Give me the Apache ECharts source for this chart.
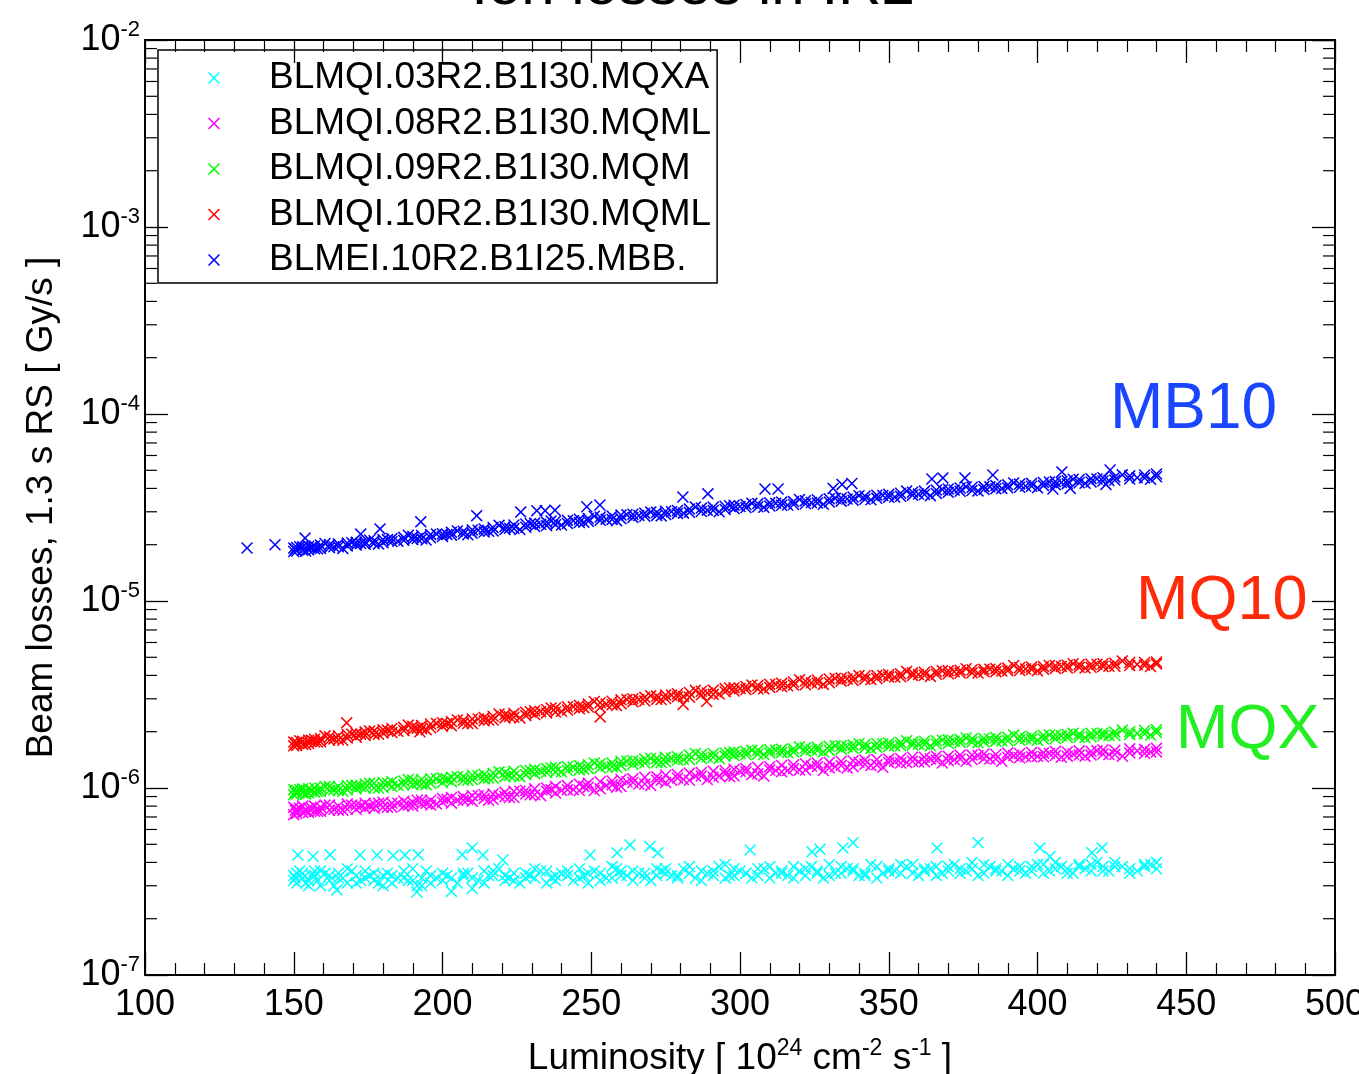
<!DOCTYPE html>
<html>
<head>
<meta charset="utf-8">
<title>Ion losses in IR2</title>
<script src="https://cdn.jsdelivr.net/npm/echarts@6/dist/echarts.min.js"></script>
<style>
  html, body { margin: 0; padding: 0; background: #fff; }
  #chart { width: 1359px; height: 1074px; }
</style>
</head>
<body>
<div id="chart"></div>
<script>
// luminosity samples [1e24 cm^-2 s^-1]
const lumi = [150,151,153,155,157,159,162,165,168,171,174,177,180,183,187,190,193,196,200,203,
  207,210,214,217,221,224,228,231,235,238,242,246,249,253,257,260,264,268,272,275,
  279,283,287,291,295,298,302,306,310,314,318,322,326,330,334,338,342,346,350,354,
  358,362,366,370,374,378,382,386,390,394,398,402,406,410,414,418,422,426,431,436,440];
const lumi2 = [150.5,152,154,156,158,160.5,163.5,166.5,169.5,172.5,175.5,178.5,181.5,185,188.5,191.5,194.5,198,201.5,205,
  208.5,212,215.5,219,222.5,226,229.5,233,236.5,240,244,247.5,251,255,258.5,262,266,270,273.5,277,
  281,285,289,293,296.5,300,304,308,312,316,320,324,328,332,336,340,344,348,352,356,
  360,364,368,372,376,380,384,388,392,396,400,404,408,412,416,420,424,428.5,433.5,438];

// BLMQI.03R2.B1I30.MQXA, x 1e-7 Gy/s
const mqxaA = [3.4,3.1,3.5,3.2,3.6,3.0,3.4,3.3,3.7,3.1,3.3,3.5,3.0,3.4,3.6,3.2,3.3,3.1,3.5,3.3,
  3.4,2.9,3.6,3.4,3.2,3.5,3.3,3.7,3.1,3.4,3.6,3.3,3.5,3.2,3.8,3.4,3.6,3.3,3.7,3.5,
  3.4,3.8,3.2,3.6,3.9,3.4,3.5,3.7,3.3,3.6,3.8,3.4,3.6,3.9,3.5,3.7,3.4,3.8,3.6,3.5,
  3.9,3.6,3.4,3.8,3.7,4.0,3.5,3.7,3.9,3.6,3.8,3.5,4.0,3.7,3.9,3.6,3.8,4.0,3.7,3.9,3.7];
const mqxaB = [3.2,3.5,3.3,3.0,3.4,3.6,3.2,3.5,3.1,3.4,3.6,3.2,3.4,3.1,3.3,3.7,3.0,3.4,3.2,2.8,
  3.5,3.3,3.1,3.6,3.4,3.2,3.5,3.3,3.6,3.2,3.4,3.7,3.1,3.5,3.3,3.6,3.2,3.5,3.4,3.7,
  3.3,3.5,3.6,3.4,3.3,3.7,3.5,3.4,3.8,3.5,3.3,3.7,3.5,3.4,3.8,3.6,3.5,3.3,3.7,3.9,
  3.5,3.7,3.8,3.6,3.5,3.7,3.9,3.6,3.4,3.8,3.6,3.9,3.7,3.5,3.8,3.9,3.6,3.8,3.5,3.8,4.0];
const mqxaC = [3.3,3.6,3.1,3.4,3.2,3.5,3.0,3.3,3.6,3.2,3.4,3.1,3.5,3.3,3.2,3.0,3.6,3.3,3.4,3.1,
  3.5,3.2,3.4,3.7,3.3,3.1,3.4,3.6,3.3,3.5,3.2,3.4,3.6,3.3,3.7,3.4,3.5,3.2,3.6,3.4,
  3.7,3.3,3.5,3.8,3.4,3.6,3.3,3.7,3.5,3.4,3.6,3.8,3.3,3.5,3.7,3.4,3.9,3.5,3.6,3.8,
  3.4,3.7,3.5,3.9,3.6,3.4,3.8,3.6,3.7,3.5,3.9,3.6,3.8,3.5,3.7,4.0,3.6,3.8,3.6,3.9];
const mqxaOut = [[151.4,4.38],[156.5,4.3],[162.2,4.4],[172.3,4.38],[178,4.38],[183.4,4.35],[187.4,4.38],
  [191.8,4.4],[206.6,4.4],[210,4.78],[213.6,4.38],[220.3,4.12],[249.6,4.38],[258.7,4.5],[263,4.96],
  [269.7,4.86],[272.4,4.5],[303.4,4.66],[324.2,4.56],[326.9,4.7],[334.6,4.78],[338,5.1],[366.2,4.78],
  [380,5.1],[400.8,4.78],[404.2,4.3],[418.3,4.5],[421.7,4.78],[164.5,2.85],[191.4,2.78]];

// BLMQI.08R2.B1I30.MQML, x 1e-6 Gy/s
const mqml08A = [0.79,0.73,0.80,0.74,0.80,0.75,0.81,0.76,0.82,0.77,0.83,0.78,0.84,0.79,0.85,0.80,0.86,0.81,0.88,0.83,
  0.90,0.85,0.92,0.87,0.95,0.89,0.97,0.92,1.00,0.94,1.03,0.97,1.06,0.99,1.09,1.02,1.12,1.05,1.15,1.07,
  1.18,1.10,1.21,1.14,1.24,1.16,1.27,1.19,1.30,1.22,1.33,1.25,1.36,1.28,1.39,1.30,1.41,1.33,1.43,1.36,
  1.46,1.38,1.48,1.40,1.50,1.42,1.52,1.43,1.54,1.45,1.55,1.47,1.57,1.48,1.58,1.50,1.60,1.51,1.62,1.53,1.63];
const mqml08B = [0.72,0.77,0.74,0.78,0.75,0.79,0.76,0.80,0.77,0.81,0.78,0.82,0.79,0.83,0.80,0.84,0.82,0.86,0.84,0.89,
  0.86,0.91,0.88,0.93,0.90,0.96,0.93,0.99,0.96,1.02,0.98,1.05,1.01,1.08,1.04,1.11,1.07,1.14,1.10,1.17,
  1.13,1.20,1.16,1.23,1.19,1.26,1.22,1.29,1.25,1.32,1.27,1.35,1.30,1.37,1.32,1.40,1.34,1.42,1.37,1.44,
  1.39,1.46,1.41,1.48,1.43,1.50,1.44,1.51,1.46,1.53,1.47,1.54,1.49,1.56,1.50,1.57,1.52,1.59,1.54,1.61,1.56];
const mqml08C = [0.76,0.78,0.75,0.78,0.75,0.81,0.77,0.76,0.81,0.80,0.80,0.83,0.79,0.83,0.81,0.86,0.83,0.82,0.87,0.86,
  0.87,0.91,0.86,0.91,0.89,0.96,0.92,0.91,0.98,0.97,0.98,1.02,0.97,1.03,1.01,1.08,1.05,1.03,1.10,1.10,
  1.11,1.16,1.11,1.16,1.15,1.23,1.18,1.16,1.24,1.24,1.25,1.31,1.24,1.30,1.28,1.37,1.32,1.29,1.39,1.37,
  1.38,1.43,1.36,1.42,1.39,1.49,1.43,1.39,1.49,1.47,1.48,1.53,1.46,1.52,1.48,1.58,1.51,1.48,1.58,1.56];

// BLMQI.09R2.B1I30.MQM, x 1e-6 Gy/s
const mqmA = [0.98,0.93,0.99,0.94,1.00,0.96,1.02,0.97,1.03,0.99,1.05,1.00,1.07,1.02,1.09,1.04,1.11,1.06,1.13,1.08,
  1.15,1.11,1.18,1.13,1.21,1.16,1.24,1.19,1.27,1.22,1.30,1.25,1.33,1.28,1.36,1.32,1.40,1.36,1.44,1.38,
  1.47,1.42,1.51,1.46,1.54,1.49,1.57,1.52,1.60,1.55,1.62,1.57,1.65,1.59,1.68,1.63,1.71,1.65,1.74,1.68,
  1.76,1.71,1.79,1.73,1.82,1.76,1.84,1.78,1.87,1.80,1.89,1.83,1.92,1.86,1.94,1.88,1.97,1.91,2.00,1.95,2.05];
const mqmB = [0.92,0.97,0.94,0.99,0.95,1.00,0.97,1.02,0.98,1.03,1.00,1.06,1.01,1.08,1.04,1.10,1.05,1.12,1.07,1.14,
  1.10,1.17,1.12,1.20,1.15,1.23,1.18,1.26,1.21,1.29,1.24,1.32,1.27,1.35,1.30,1.39,1.34,1.43,1.37,1.46,
  1.41,1.50,1.44,1.53,1.48,1.56,1.51,1.59,1.54,1.61,1.56,1.64,1.59,1.67,1.61,1.70,1.64,1.73,1.67,1.75,
  1.70,1.78,1.72,1.81,1.75,1.83,1.77,1.86,1.79,1.88,1.82,1.91,1.84,1.93,1.87,1.96,1.90,1.99,1.93,2.03,1.98];
const mqmC = [0.95,0.98,0.93,0.97,0.96,1.02,0.98,0.96,1.03,1.02,1.06,1.00,1.06,1.03,1.11,1.06,1.04,1.12,1.11,1.15,
  1.10,1.16,1.13,1.22,1.17,1.15,1.24,1.23,1.28,1.22,1.29,1.26,1.36,1.31,1.29,1.39,1.38,1.44,1.37,1.44,
  1.42,1.53,1.47,1.44,1.55,1.53,1.59,1.51,1.59,1.55,1.66,1.60,1.56,1.68,1.66,1.73,1.63,1.72,1.68,1.79,
  1.72,1.68,1.80,1.78,1.85,1.75,1.83,1.79,1.92,1.84,1.80,1.92,1.90,1.96,1.86,1.95,1.91,2.04,1.96,1.92];

// BLMQI.10R2.B1I30.MQML, x 1e-6 Gy/s
const mqml10A = [1.76,1.69,1.78,1.73,1.82,1.77,1.88,1.81,1.93,1.87,1.99,1.93,2.05,1.98,2.11,2.05,2.16,2.10,2.23,2.15,
  2.30,2.21,2.38,2.31,2.47,2.39,2.54,2.47,2.63,2.55,2.72,2.65,2.81,2.70,2.91,2.82,3.00,2.92,3.10,3.01,
  3.19,3.06,3.29,3.17,3.40,3.30,3.49,3.39,3.59,3.48,3.69,3.57,3.78,3.66,3.87,3.76,3.97,3.85,4.05,3.93,
  4.13,4.01,4.20,4.08,4.26,4.13,4.31,4.19,4.38,4.25,4.44,4.31,4.52,4.38,4.58,4.42,4.62,4.48,4.69,4.53,4.72];
const mqml10B = [1.68,1.75,1.71,1.80,1.76,1.84,1.80,1.90,1.85,1.96,1.91,2.02,1.97,2.08,2.03,2.14,2.08,2.20,2.14,2.27,
  2.22,2.34,2.29,2.42,2.37,2.50,2.44,2.59,2.52,2.68,2.61,2.77,2.71,2.86,2.79,2.96,2.89,3.06,2.98,3.14,
  3.08,3.24,3.15,3.34,3.27,3.44,3.36,3.54,3.45,3.63,3.55,3.73,3.64,3.83,3.73,3.92,3.82,4.00,3.92,4.08,
  3.99,4.16,4.06,4.23,4.12,4.29,4.18,4.35,4.24,4.41,4.30,4.47,4.36,4.54,4.42,4.59,4.47,4.64,4.52,4.69,4.60];
const mqml10C = [1.73,1.79,1.71,1.80,1.76,1.90,1.83,1.80,1.94,1.94,2.02,1.94,2.04,2.01,2.17,2.09,2.05,2.21,2.21,2.31,
  2.21,2.34,2.31,2.49,2.41,2.37,2.56,2.56,2.68,2.57,2.72,2.69,2.90,2.81,2.76,2.97,2.97,3.11,2.97,3.14,
  3.09,3.33,3.22,3.18,3.43,3.40,3.55,3.39,3.58,3.52,3.79,3.65,3.58,3.85,3.83,3.99,3.80,4.00,3.92,4.20,
  4.04,3.95,4.23,4.19,4.34,4.12,4.32,4.22,4.52,4.33,4.23,4.52,4.47,4.62,4.38,4.59,4.48,4.78,4.58,4.46];
const mqml10Out = [[167.8,2.23],[192.4,2.0],[253,2.4],[280.9,2.8],[288.8,2.9]];

// BLMEI.10R2.B1I25.MBB., x 1e-5 Gy/s
const mbbA = [1.92,1.85,1.95,1.88,1.97,1.91,2.00,1.95,2.04,1.99,2.07,2.03,2.13,2.08,2.19,2.13,2.24,2.18,2.29,2.25,
  2.36,2.30,2.43,2.37,2.50,2.44,2.58,2.50,2.64,2.56,2.70,2.63,2.76,2.70,2.85,2.75,2.91,2.84,2.98,2.90,
  3.05,2.98,3.14,3.05,3.21,3.12,3.28,3.19,3.35,3.25,3.40,3.31,3.48,3.38,3.56,3.46,3.64,3.54,3.72,3.63,
  3.82,3.71,3.92,3.81,4.02,3.90,4.10,3.98,4.18,4.06,4.26,4.14,4.35,4.24,4.46,4.33,4.56,4.43,4.67,4.55,4.78];
const mbbB = [1.84,1.93,1.87,1.96,1.90,1.99,1.93,2.02,1.97,2.06,2.01,2.10,2.05,2.16,2.11,2.21,2.15,2.27,2.21,2.33,
  2.28,2.40,2.34,2.47,2.41,2.55,2.48,2.61,2.53,2.67,2.60,2.74,2.67,2.81,2.73,2.88,2.80,2.95,2.87,3.02,
  2.94,3.10,3.01,3.18,3.09,3.25,3.16,3.32,3.22,3.38,3.28,3.44,3.34,3.52,3.42,3.60,3.50,3.68,3.59,3.77,
  3.68,3.87,3.76,3.97,3.86,4.06,3.95,4.14,4.03,4.22,4.11,4.30,4.19,4.40,4.29,4.51,4.38,4.61,4.49,4.72,4.62];
const mbbC = [1.89,1.95,1.85,1.94,1.90,2.03,1.95,1.91,2.05,2.03,2.12,2.02,2.13,2.09,2.25,2.16,2.12,2.28,2.27,2.37,
  2.26,2.39,2.36,2.54,2.45,2.41,2.59,2.57,2.68,2.55,2.69,2.64,2.84,2.74,2.69,2.89,2.87,2.99,2.85,3.00,
  2.95,3.18,3.06,3.00,3.23,3.20,3.33,3.17,3.33,3.26,3.49,3.36,3.29,3.54,3.51,3.66,3.48,3.67,3.60,3.87,
  3.73,3.66,3.94,3.92,4.08,3.88,4.08,4.00,4.28,4.12,4.03,4.33,4.30,4.48,4.26,4.49,4.41,4.73,4.56,4.48];
const mbbOut = [[134.3,1.92],[143.7,2.0],[153.8,2.17],[172.5,2.28],[179,2.43],[192.7,2.65],[211.5,2.86],
  [226.3,2.99],[231.7,3.04],[234.5,3.04],[237.8,3.06],[248.5,3.19],[252.9,3.26],[280.8,3.6],[289.2,3.74],
  [308.4,3.97],[312.8,3.97],[331.3,4.0],[334.3,4.2],[337.6,4.25],[364.5,4.49],[368.2,4.55],[375.6,4.55],
  [385,4.72],[405.2,3.97],[408.2,4.9],[411,4.0],[423,4.2],[424.4,5.02]];

const legendNames = ['BLMQI.03R2.B1I30.MQXA', 'BLMQI.08R2.B1I30.MQML', 'BLMQI.09R2.B1I30.MQM',
  'BLMQI.10R2.B1I30.MQML', 'BLMEI.10R2.B1I25.MBB.'];
const colors = ['#00ffff', '#ff00ff', '#00ff00', '#ff0000', '#0000ff'];

// minor log ticks: 2..9 in each decade
const minorMult = [2, 3, 4, 5, 6, 7, 8, 9];
const decades = [-7, -6, -5, -4, -3];
const minorY = [];
decades.forEach(d => minorMult.forEach(m => minorY.push(m * Math.pow(10, d))));

const FONT = 'Liberation Sans, Arial, Helvetica, sans-serif';
const X_MARK = 'path://M0,0.9L0.9,0L5,4.1L9.1,0L10,0.9L5.9,5L10,9.1L9.1,10L5,5.9L0.9,10L0,9.1L4.1,5Z';

const pts = (xs, ys, scale) => xs.map((x, i) => [x, ys[i] * scale]);
const extra = (list, scale) => list.map(p => [p[0], p[1] * scale]);

const seriesData = [
  [...pts(lumi, mqxaA, 1e-7), ...pts(lumi, mqxaB, 1e-7), ...pts(lumi2, mqxaC, 1e-7), ...extra(mqxaOut, 1e-7)],
  [...pts(lumi, mqml08A, 1e-6), ...pts(lumi, mqml08B, 1e-6), ...pts(lumi2, mqml08C, 1e-6)],
  [...pts(lumi, mqmA, 1e-6), ...pts(lumi, mqmB, 1e-6), ...pts(lumi2, mqmC, 1e-6)],
  [...pts(lumi, mqml10A, 1e-6), ...pts(lumi, mqml10B, 1e-6), ...pts(lumi2, mqml10C, 1e-6), ...extra(mqml10Out, 1e-6)],
  [...pts(lumi, mbbA, 1e-5), ...pts(lumi, mbbB, 1e-5), ...pts(lumi2, mbbC, 1e-5), ...extra(mbbOut, 1e-5)],
];

const axisLine = { show: true, onZero: false, lineStyle: { color: '#000', width: 2 } };
const majorTick = { show: true, inside: true, length: 23, lineStyle: { color: '#000', width: 1.3 } };
const supRich = {
  b: { fontSize: 36, fontFamily: FONT, color: '#000' },
  s: { fontSize: 22, fontFamily: FONT, color: '#000', padding: [0, 0, 20, 0] },
};

const chart = echarts.init(document.getElementById('chart'), null, { renderer: 'canvas' });

const option = {
  animation: false,
  backgroundColor: '#fff',
  textStyle: { fontFamily: FONT },
  grid: { left: 145, right: 24, top: 40, bottom: 99, containLabel: false, outerBoundsMode: 'none' },
  legend: {
    data: legendNames,
    orient: 'vertical',
    left: 158,
    top: 50,
    padding: [8, 6, 3, 50],
    itemGap: 5.5,
    itemWidth: 100,
    itemHeight: 12,
    icon: X_MARK,
    borderColor: '#000',
    borderWidth: 1.5,
    textStyle: { fontSize: 37, color: '#000', fontFamily: FONT, lineHeight: 40 },
  },
  xAxis: [
    {
      type: 'value', min: 100, max: 500, interval: 50, position: 'bottom',
      axisLine, axisTick: majorTick,
      minorTick: { show: true, splitNumber: 5, length: 12, lineStyle: { color: '#000', width: 1.2 } },
      splitLine: { show: false },
      axisLabel: { fontSize: 36, color: '#000', margin: 12, fontFamily: FONT },
      name: 'Luminosity [ 10{s|24} cm{s|-2} s{s|-1} ]',
      nameLocation: 'middle',
      nameGap: 62,
      nameTextStyle: { fontSize: 37, color: '#000', fontFamily: FONT,
        rich: { s: { fontSize: 23, fontFamily: FONT, color: '#000', padding: [0, 0, 20, 0] } } },
    },
    {
      type: 'value', min: 100, max: 500, interval: 50, position: 'top',
      axisLine, axisTick: majorTick,
      minorTick: { show: true, splitNumber: 5, length: 12, lineStyle: { color: '#000', width: 1.2 } },
      splitLine: { show: false },
      axisLabel: { show: false },
    },
  ],
  yAxis: [
    {
      type: 'log', logBase: 10, min: 1e-7, max: 1e-2, position: 'left',
      axisLine, axisTick: majorTick,
      splitLine: { show: false },
      axisLabel: {
        margin: 5,
        formatter: v => '{b|10}{s|' + Math.round(Math.log10(v)) + '}',
        rich: supRich,
      },
      name: 'Beam losses, 1.3 s RS [ Gy/s ]',
      nameLocation: 'middle',
      nameGap: 85,
      nameTextStyle: { fontSize: 37, color: '#000', fontFamily: FONT },
    },
    {
      type: 'log', logBase: 10, min: 1e-7, max: 1e-2, position: 'right',
      axisLine, axisTick: majorTick,
      splitLine: { show: false },
      axisLabel: { show: false },
    },
  ],
  series: [
    ...legendNames.map((name, k) => ({
      name,
      type: 'scatter',
      symbol: X_MARK,
      symbolSize: 12,
      itemStyle: { color: colors[k], opacity: 1 },
      data: seriesData[k],
    })),
    {
      // minor log ticks on left and right frame
      type: 'custom',
      silent: true,
      clip: false,
      z: 10,
      encode: { x: 0, y: 1 },
      data: minorY.map(v => [100, v]),
      renderItem: (params, api) => {
        const v = api.value(1);
        const l = api.coord([100, v]);
        const r = api.coord([500, v]);
        const st = { stroke: '#000', lineWidth: 1.2 };
        return {
          type: 'group',
          children: [
            { type: 'line', shape: { x1: l[0], y1: l[1], x2: l[0] + 12, y2: l[1] }, style: st },
            { type: 'line', shape: { x1: r[0], y1: r[1], x2: r[0] - 12, y2: r[1] }, style: st },
          ],
        };
      },
    },
  ],
  graphic: [
    { type: 'text', x: 693, y: -13, style: { text: 'Ion losses in IR2', font: '60px ' + FONT, fill: '#000', align: 'center', verticalAlign: 'middle' } },
    { type: 'text', x: 1110, y: 410, style: { text: 'MB10', font: '64px ' + FONT, fill: '#1a46ff', verticalAlign: 'middle' } },
    { type: 'text', x: 1136, y: 602, style: { text: 'MQ10', font: '63px ' + FONT, fill: '#ff2a0a', verticalAlign: 'middle' } },
    { type: 'text', x: 1176, y: 731, style: { text: 'MQX', font: '63px ' + FONT, fill: '#22ee22', verticalAlign: 'middle' } },
  ],
};

chart.setOption(option);
</script>
</body>
</html>
